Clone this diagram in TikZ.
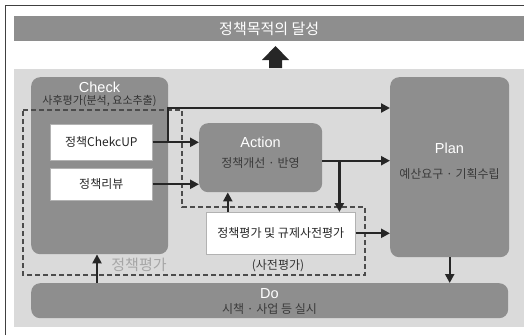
\documentclass[tikz,border=0pt]{standalone}
\usepackage{fontspec}
\setmainfont{Noto Sans CJK KR}
\newfontfamily\latinfont{Liberation Sans}
\usetikzlibrary{arrows.meta,calc}

\definecolor{boxgray}{HTML}{8E8E8E}
\definecolor{bggray}{HTML}{DADADA}
\definecolor{inkgray}{HTML}{262626}
\definecolor{subgray}{HTML}{3A3A3A}
\definecolor{labgray}{HTML}{A6A6A6}

\begin{document}
\begin{tikzpicture}[x=1pt,y=-1pt,
    stage/.style={fill=boxgray, draw=none, rounded corners=9pt, anchor=north west, inner sep=0pt},
    card/.style={fill=white, draw=gray!60, line width=0.6pt, anchor=north west, inner sep=0pt, font=\fontsize{12}{14}\selectfont, text=black!85},
    head/.style={text=white, inner sep=0pt, font=\latinfont\fontsize{14.5}{16}\selectfont},
    sub/.style={text=subgray, inner sep=0pt, font=\fontsize{12}{14}\selectfont},
    flow/.style={draw=inkgray, line width=2.2pt, -{Triangle[length=9pt,width=9pt]}},
    dashline/.style={draw=black!70, line width=1.4pt, dash pattern=on 5pt off 3pt}]
  \useasboundingbox (0,0) rectangle (524,335);
  % frame and background
  \draw[black!75, line width=0.8pt] (5,335) -- (5,5) -- (524,5);
  \fill[bggray] (14,69) rectangle (524,327);
  \node[fill=boxgray, anchor=north west, minimum width=510pt, minimum height=25pt, inner sep=0pt,
        text=white, font=\fontsize{15}{17}\selectfont] (goal) at (14,16) {정책목적의 달성};
  \fill[inkgray] (262,60) -- (275.5,46) -- (289,60) -- (282,60) -- (282,68) -- (269,68) -- (269,60) -- cycle;

  % stages
  \node[stage, minimum width=137pt, minimum height=177pt] (check) at (31,77) {};
  \node[stage, minimum width=123pt, minimum height=69pt] (action) at (199,123) {};
  \node[stage, minimum width=119pt, minimum height=180pt] (plan) at (390,77) {};
  \node[stage, minimum width=477pt, minimum height=35pt] (do) at (31,283) {};

  \node[head] (checkT) at (99.5,87) {Check};
  \node[sub, text=black!80, font=\fontsize{11}{13}\selectfont] (checkS) at (99.5,101) {사후평가(분석, 요소추출)};
  \node[head] (actionT) at (260.5,142) {Action};
  \node[sub] (actionS) at (260.5,163) {정책개선 · 반영};
  \node[head] (planT) at (449.5,148) {Plan};
  \node[sub] (planS) at (449.5,174) {예산요구 · 기획수립};
  \node[head] (doT) at (269.5,294) {Do};
  \node[sub] (doS) at (269.5,309) {시책 · 사업 등 실시};

  % evaluation boxes
  \node[card, minimum width=102pt, minimum height=36pt] (chekcup) at (50,124) {정책ChekcUP};
  \node[card, minimum width=102pt, minimum height=32pt] (review) at (50,168) {정책리뷰};
  \node[card, minimum width=149pt, minimum height=42pt] (prior) at (206,212) {정책평가 및 규제사전평가};
  \node[sub, text=black!80] (priorS) at (278,266) {(사전평가)};
  \node[text=labgray, inner sep=0pt, font=\fontsize{15}{17}\selectfont] (evalT) at (139,265) {정책평가};

  \draw[dashline] (23,110) -- (182,110) -- (182,207) -- (365,207) -- (365,275) -- (23,275) -- cycle;

  % connectors
  \coordinate (tap) at ($(chekcup.east)+(15,0)$);
  \coordinate (aout) at ([yshift=-3pt]action.east);
  \coordinate (drop) at ($(aout)+(17,0)$);
  \coordinate (pin) at ([xshift=-53pt]prior.north);
  \coordinate (rise) at (97,283);
  \draw[flow] (chekcup.east) -- (chekcup.east -| action.west);
  \draw[flow] (review.east) -- (review.east -| action.west);
  \draw[flow] (tap) |- ($(plan.north west)+(0,31)$);
  \draw[flow] (aout) -- (aout -| plan.west);
  \draw[flow] (drop) -- (drop |- prior.north);
  \draw[flow] (pin) -- (pin |- action.south);
  \draw[flow] (prior.east) -- (prior.east -| plan.west);
  \draw[flow] (plan.south) -- (plan.south |- do.north);
  \draw[flow] (rise) -- (rise |- check.south);
\end{tikzpicture}
\end{document}
